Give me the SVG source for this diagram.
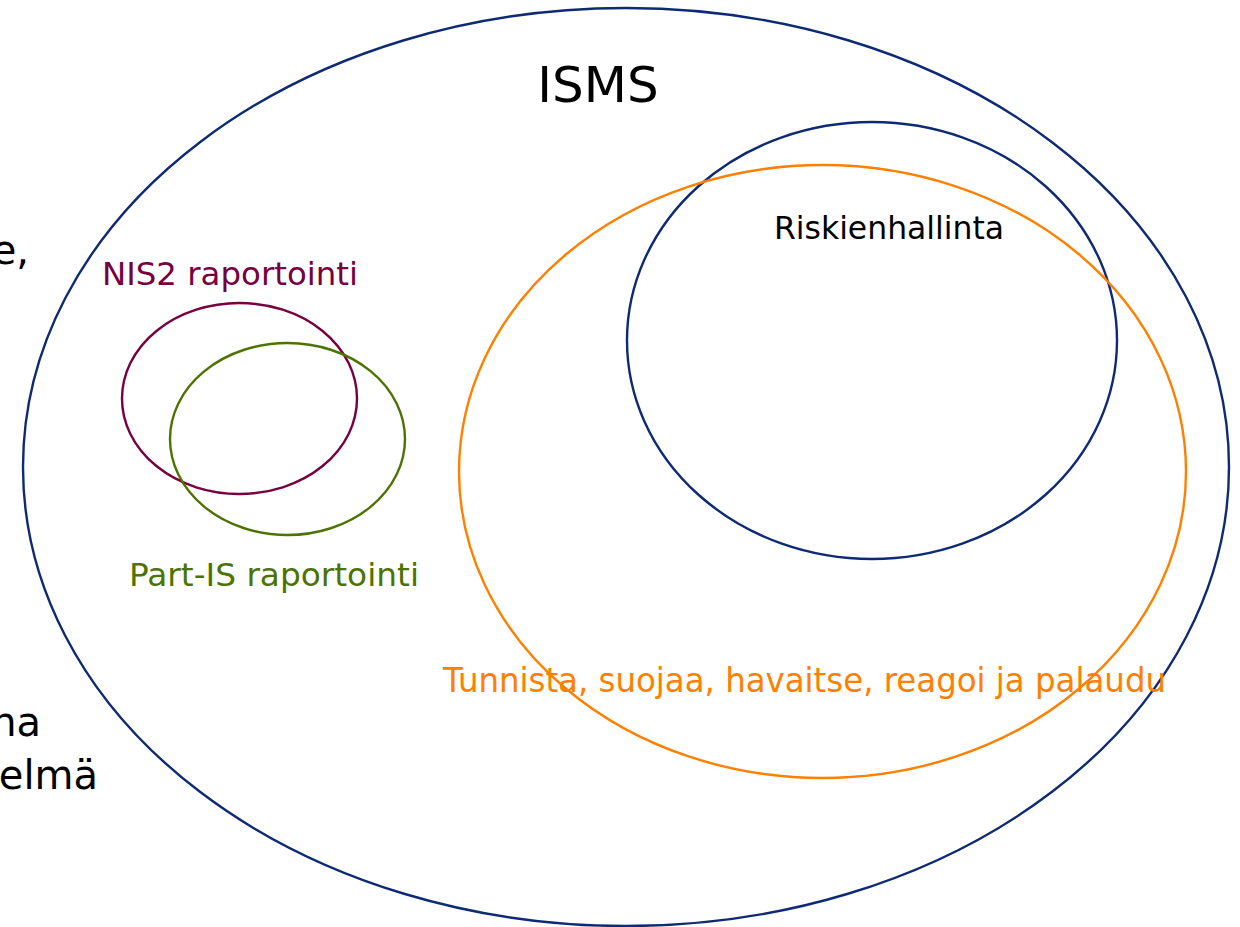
<svg xmlns="http://www.w3.org/2000/svg" width="1240" height="927" viewBox="0 0 1240 927">
<style>
text{font-family:"DejaVu Sans",Verdana,sans-serif}
.e{fill:none;stroke-width:2.4}
</style>
<rect width="1240" height="927" fill="#fff"/>
<g id="left-text" fill="#000" font-size="40" text-anchor="end">
<text x="29" y="264">e,</text>
<text x="41" y="736">na</text>
<text x="98" y="789">elmä</text>
</g>
<g id="isms">
<ellipse class="e" cx="626" cy="467" rx="603" ry="459" stroke="#0E2A74"/>
<text x="598" y="102" font-size="50" text-anchor="middle" fill="#000">ISMS</text>
</g>
<g id="riskienhallinta">
<ellipse class="e" cx="872" cy="340.5" rx="245" ry="218.5" stroke="#0E2A74"/>
<text x="774" y="239" font-size="31.5" textLength="230" lengthAdjust="spacingAndGlyphs" fill="#000">Riskienhallinta</text>
</g>
<g id="tunnista">
<ellipse class="e" cx="822.5" cy="471.5" rx="363.5" ry="306.5" stroke="#FF8000"/>
<text x="443" y="692" font-size="33" textLength="723" lengthAdjust="spacingAndGlyphs" fill="#FF8000">Tunnista, suojaa, havaitse, reagoi ja palaudu</text>
</g>
<g id="nis2">
<ellipse class="e" cx="239.5" cy="398.5" rx="117.5" ry="95.5" stroke="#760040"/>
<text x="102" y="285" font-size="32" textLength="256" lengthAdjust="spacingAndGlyphs" fill="#760040">NIS2 raportointi</text>
</g>
<g id="part-is">
<ellipse class="e" cx="287.5" cy="439" rx="117.5" ry="96" stroke="#4C7300"/>
<text x="129" y="586" font-size="32" textLength="290" lengthAdjust="spacingAndGlyphs" fill="#4C7300">Part-IS raportointi</text>
</g>
<g id="connectors"/>
</svg>
